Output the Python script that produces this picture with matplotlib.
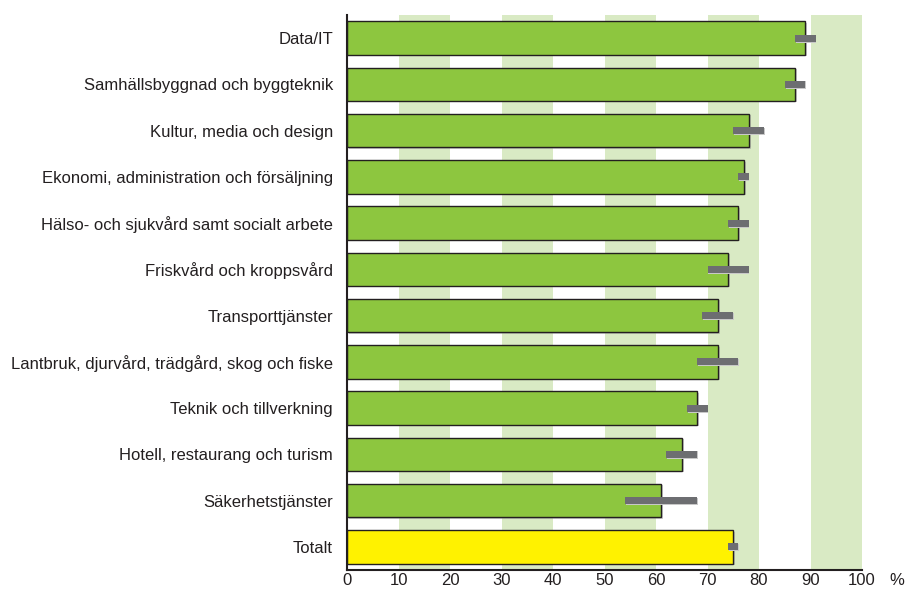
import numpy as np
import matplotlib
matplotlib.use("Agg")
import matplotlib.pyplot as plt

# andel (%) per programområde, med felmarginal (låg/hög)
categories = ["Data/IT",
              "Samhällsbyggnad och byggteknik",
              "Kultur, media och design",
              "Ekonomi, administration och försäljning",
              "Hälso- och sjukvård samt socialt arbete",
              "Friskvård och kroppsvård",
              "Transporttjänster",
              "Lantbruk, djurvård, trädgård, skog och fiske",
              "Teknik och tillverkning",
              "Hotell, restaurang och turism",
              "Säkerhetstjänster",
              "Totalt"]
values = [89, 87, 78, 77, 76, 74, 72, 72, 68, 65, 61, 75]
err_low = [87, 85, 75, 76, 74, 70, 69, 68, 66, 62, 54, 74]
err_high = [91, 89, 81, 78, 78, 78, 75, 76, 70, 68, 68, 76]
ticks = [0, 10, 20, 30, 40, 50, 60, 70, 80, 90, 100]

plt.rcParams['font.family'] = ['Liberation Sans', 'DejaVu Sans']

fig = plt.figure(figsize=(9.05, 5.89), dpi=100)
ax = fig.add_axes([347/905, 19/589, 515/905, 555/589])

y = np.arange(len(categories))
colors = ['#8dc63f']*(len(categories)-1) + ['#fff200']

# ljusgröna band varannan tiotal
for lo in range(10, 100, 20):
    ax.axvspan(lo, lo+10, color='#d9eac4', lw=0, zorder=0)

# skugga + staplar
ax.barh(y+0.03, values, height=0.72, left=0.4, color='#9a9a9a', alpha=0.5, lw=0, zorder=1)
ax.barh(y, values, height=0.72, color=colors, edgecolor='#231f20', lw=1, zorder=2)

lo = np.array(err_low); hi = np.array(err_high)
ax.barh(y+0.015, hi-lo, left=lo+0.15, height=0.16, color='#c8c8c8', lw=0, zorder=3)
ax.barh(y, hi-lo, left=lo, height=0.15, color='#6d6e71', lw=0, zorder=4)

ax.set_xlim(0, 100)
ax.set_ylim(len(categories)-0.5, -0.5)
ax.set_xticks(ticks)
ax.set_xticklabels([str(t) for t in ticks], fontsize=12)
ax.set_yticks(y)
ax.set_yticklabels(categories, fontsize=12)
ax.tick_params(axis='both', length=0, colors='#231f20')
ax.tick_params(axis='y', pad=10)
ax.tick_params(axis='x', pad=2)
for s in ['top', 'right']:
    ax.spines[s].set_visible(False)
for s in ['left', 'bottom']:
    ax.spines[s].set_color('#231f20')
    ax.spines[s].set_linewidth(1.5)
ax.annotate('%', xy=(1.068, 0), xycoords='axes fraction', xytext=(0, -2),
            textcoords='offset points', fontsize=12, ha='center', va='top',
            color='#231f20', annotation_clip=False)

fig.savefig('out.png', dpi=100)
